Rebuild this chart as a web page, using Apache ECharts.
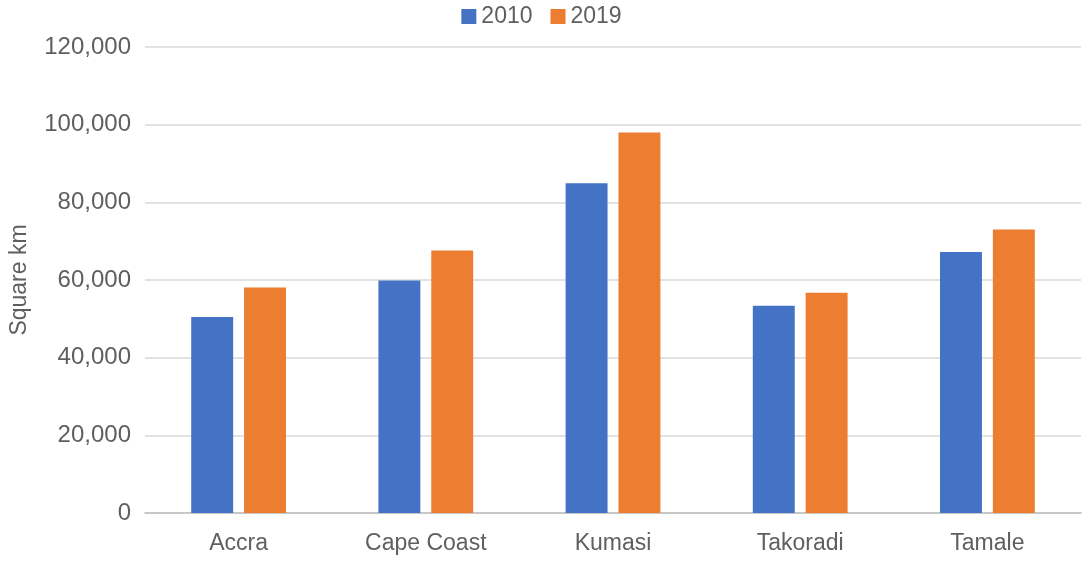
<!DOCTYPE html>
<html>
<head>
<meta charset="utf-8">
<script src="https://cdn.jsdelivr.net/npm/echarts@6/dist/echarts.min.js"></script>
<style>
  html, body { margin: 0; padding: 0; background: #fff; }
  #chart { width: 1083px; height: 561px; }
</style>
</head>
<body>
<div id="chart"></div>
<script>
// Urban extent by city, square km
const cities = ['Accra', 'Cape Coast', 'Kumasi', 'Takoradi', 'Tamale'];
const area2010 = [50500, 59900, 84900, 53400, 67200];
const area2019 = [58100, 67600, 98000, 56700, 73000];
const seriesNames = ['2010', '2019'];

const textColor = '#5f5f5f';
const fontFamily = '"Liberation Sans", Arial, Helvetica, sans-serif';

const chart = echarts.init(document.getElementById('chart'), null, { renderer: 'canvas' });

chart.setOption({
  animation: false,
  backgroundColor: '#ffffff',
  textStyle: { fontFamily: fontFamily, color: textColor },
  legend: {
    top: 0,
    left: 'center',
    itemWidth: 15,
    itemHeight: 15,
    itemGap: 18,
    icon: 'rect',
    textStyle: { fontSize: 23, color: textColor, fontFamily: fontFamily },
    data: seriesNames
  },
  grid: {
    left: 140,
    right: 2,
    top: 47,
    bottom: 48,
    containLabel: false
  },
  xAxis: {
    type: 'category',
    data: cities,
    axisLine: { show: true, lineStyle: { color: '#bfbfbf', width: 1.5 } },
    axisTick: { show: false },
    axisLabel: { fontSize: 23, color: textColor, margin: 19, fontFamily: fontFamily }
  },
  yAxis: {
    type: 'value',
    min: 0,
    max: 120000,
    interval: 20000,
    name: 'Square km',
    nameLocation: 'middle',
    nameGap: 114,
    nameRotate: 90,
    nameTextStyle: { fontSize: 23, color: textColor, fontFamily: fontFamily },
    axisLine: { show: false },
    axisTick: { show: false },
    splitLine: { lineStyle: { color: '#d9d9d9', width: 1.5 } },
    axisLabel: {
      fontSize: 24,
      color: textColor,
      margin: 14,
      fontFamily: fontFamily,
      formatter: function (v) { return v.toLocaleString('en-US'); }
    }
  },
  series: [
    {
      name: seriesNames[0],
      type: 'bar',
      data: area2010,
      barWidth: '22.4%',
      barGap: '26%',
      itemStyle: { color: '#4472C4' }
    },
    {
      name: seriesNames[1],
      type: 'bar',
      data: area2019,
      barWidth: '22.4%',
      barGap: '26%',
      itemStyle: { color: '#ED7D31' }
    }
  ]
});
</script>
</body>
</html>
